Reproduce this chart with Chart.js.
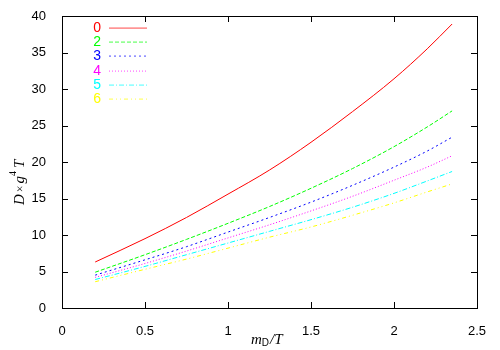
<!DOCTYPE html>
<html>
<head>
<meta charset="utf-8">
<script src="https://cdn.jsdelivr.net/npm/chart.js@4.4.0/dist/chart.umd.min.js"></script>
<style>
  html, body { margin: 0; padding: 0; background: #fff; }
  #wrap { width: 500px; height: 350px; }
</style>
</head>
<body>
<div id="wrap"><canvas id="c" width="500" height="350"></canvas></div>
<script>
// m_D / T values shared by every curve
const xs = [0.2, 0.5, 0.75, 1.0, 1.25, 1.5, 1.75, 2.0, 2.2, 2.35];

const labels = ['0', '2', '3', '4', '5', '6'];
const colors = ['#ff0000', '#00ff00', '#0000ff', '#ff00ff', '#00ffff', '#ffff00'];
const dashes = [[], [4, 2], [2, 3], [1, 2], [5, 2, 1, 2], [4, 3, 1, 3, 1, 3]];

const s0 = [6.3, 9.5, 12.4, 15.6, 18.9, 22.7, 26.9, 31.4, 35.5, 38.9];
const s2 = [4.9, 7.3, 9.4, 11.6, 13.9, 16.4, 19.1, 22.1, 24.8, 27.0];
const s3 = [4.5, 6.6, 8.4, 10.4, 12.4, 14.5, 16.8, 19.3, 21.5, 23.4];
const s4 = [4.2, 6.1, 7.8, 9.6, 11.4, 13.3, 15.3, 17.5, 19.3, 20.85];
const s5 = [3.9, 5.7, 7.3, 8.9, 10.5, 12.1, 13.8, 15.7, 17.4, 18.7];
const s6 = [3.6, 5.3, 6.7, 8.2, 9.7, 11.1, 12.7, 14.4, 15.9, 17.0];
const series = [s0, s2, s3, s4, s5, s6];

const xTicks = [0, 0.5, 1, 1.5, 2, 2.5];
const yTicks = [0, 5, 10, 15, 20, 25, 30, 35, 40];

const datasets = series.map((s, i) => ({
  label: labels[i],
  data: s.map((v, j) => ({ x: xs[j], y: v })),
  borderColor: colors[i],
  borderWidth: 1,
  borderDash: dashes[i],
  pointRadius: 0,
  cubicInterpolationMode: 'monotone',
  fill: false
}));

// gnuplot-like frame: box, inward ticks on all four sides, legend, axis titles
const frame = {
  id: 'frame',
  afterDraw(chart) {
    const { ctx, chartArea: a, scales: { x, y } } = chart;
    ctx.save();
    ctx.setLineDash([]);
    ctx.strokeStyle = '#000';
    ctx.lineWidth = 1;
    ctx.strokeRect(a.left + 0.5, a.top + 0.5, a.right - a.left, a.bottom - a.top);
    ctx.beginPath();
    xTicks.forEach(v => {
      const px = Math.round(x.getPixelForValue(v)) + 0.5;
      ctx.moveTo(px, a.bottom); ctx.lineTo(px, a.bottom - 6);
      ctx.moveTo(px, a.top); ctx.lineTo(px, a.top + 6);
    });
    yTicks.forEach(v => {
      const py = Math.round(y.getPixelForValue(v)) + 0.5;
      ctx.moveTo(a.left, py); ctx.lineTo(a.left + 6, py);
      ctx.moveTo(a.right, py); ctx.lineTo(a.right - 6, py);
    });
    ctx.stroke();

    // legend: coloured label, then a sample of the line pattern
    ctx.font = '14px "Liberation Sans", Arial, sans-serif';
    ctx.textAlign = 'right';
    ctx.textBaseline = 'middle';
    labels.forEach((l, i) => {
      const ly = Math.round(27 + i * 14.2);
      ctx.fillStyle = colors[i];
      ctx.fillText(l, 101, ly + 1);
      const pat = dashes[i].length ? dashes[i] : [38, 0];
      ctx.globalAlpha = 0.6;
      let px = 109, k = 0;
      while (px < 147) {
        const len = Math.min(pat[k % pat.length], 147 - px);
        if (k % 2 === 0) ctx.fillRect(px, ly + 0.5, len, 1.2);
        px += pat[k % pat.length];
        k++;
      }
      ctx.globalAlpha = 1;
    });

    // x title: m_D / T
    ctx.fillStyle = '#000';
    ctx.textAlign = 'left';
    ctx.textBaseline = 'alphabetic';
    const serif = '"Liberation Serif", "Times New Roman", serif';
    let cx = 251, by = 344;
    ctx.font = 'italic 15px ' + serif; ctx.fillText('m', cx, by); cx += ctx.measureText('m').width;
    ctx.font = '10px "Liberation Sans", sans-serif'; ctx.fillText('D', cx, by + 2); cx += ctx.measureText('D').width + 1;
    ctx.font = 'italic 15px ' + serif; ctx.fillText('/T', cx, by);

    // y title: D × g^4 T (rotated)
    ctx.translate(24, 168);
    ctx.rotate(-Math.PI / 2);
    cx = -37; by = 0;
    ctx.font = 'italic 15px ' + serif; ctx.fillText('D', cx, by); cx += ctx.measureText('D').width + 2;
    ctx.font = '12px ' + serif; ctx.fillText('\u00d7', cx, by); cx += ctx.measureText('\u00d7').width + 2;
    ctx.font = 'italic 15px ' + serif; ctx.fillText('g', cx, by); cx += ctx.measureText('g').width;
    ctx.font = '10px ' + serif; ctx.fillText('4', cx, by - 8); cx += ctx.measureText('4').width + 3;
    ctx.font = 'italic 15px ' + serif; ctx.fillText('T', cx, by);
    ctx.restore();
  }
};

new Chart(document.getElementById('c'), {
  type: 'line',
  data: { datasets },
  options: {
    responsive: false,
    animation: false,
    layout: { padding: { top: 16, right: 23, left: 0, bottom: 0 } },
    plugins: { legend: { display: false }, tooltip: { enabled: false } },
    scales: {
      x: {
        type: 'linear', min: 0, max: 2.5,
        afterBuildTicks: s => { s.ticks = xTicks.map(v => ({ value: v })); },
        grid: { display: false },
        border: { display: false },
        ticks: { color: '#000', padding: 8, maxRotation: 0, callback: v => String(v),
                 font: { size: 13, family: '"Liberation Sans", Arial, sans-serif' } },
        afterFit: s => { s.height = 42; }
      },
      y: {
        min: 0, max: 40,
        afterBuildTicks: s => { s.ticks = yTicks.map(v => ({ value: v })); },
        grid: { display: false },
        border: { display: false },
        ticks: { color: '#000', padding: 8, callback: v => String(v),
                 font: { size: 13, family: '"Liberation Sans", Arial, sans-serif' } },
        afterFit: s => { s.width = 62; }
      }
    }
  },
  plugins: [frame]
});
</script>
</body>
</html>
